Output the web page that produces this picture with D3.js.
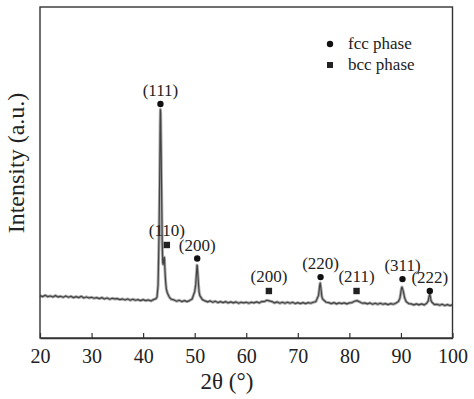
<!DOCTYPE html>
<html>
<head>
<meta charset="utf-8">
<script src="https://cdn.jsdelivr.net/npm/d3@7"></script>
<style>
  html, body { margin: 0; padding: 0; background: #fff; }
</style>
</head>
<body>
<div id="chart"></div>
<script>
// XRD pattern, 2θ from 20 to 100 deg (0.5 deg steps)
const scanStart = 20;
const scanStep = 0.5;
const scan = [
  128, 125, 129, 125, 127, 124, 128, 124, 126, 123,
  127, 123, 126, 122, 125, 122, 126, 121, 124, 121,
  123, 120, 122, 119, 122, 118, 121, 117, 120, 118,
  119, 116, 118, 115, 118, 114, 117, 114, 116, 113,
  116, 113, 115, 112, 116, 119, 240, 560, 236, 148,
  126, 117, 115, 111, 114, 110, 113, 110, 113, 118,
  140, 218, 128, 116, 112, 109, 112, 108, 111, 107,
  110, 107, 110, 106, 109, 106, 109, 105, 108, 106,
  108, 105, 108, 106, 109, 106, 110, 110, 114, 112,
  110, 106, 109, 105, 108, 105, 108, 105, 108, 104,
  107, 104, 107, 104, 107, 105, 108, 110, 128, 148,
  115, 108, 107, 104, 107, 103, 106, 104, 106, 103,
  106, 107, 111, 113, 109, 105, 106, 103, 106, 102,
  105, 102, 105, 102, 104, 101, 104, 102, 105, 110,
  140, 138, 110, 104, 103, 100, 103, 100, 103, 100,
  105, 128, 108, 101, 102, 99, 102, 98, 101, 98,
  100
];

// finer points read around the peaks [2θ, intensity]
const peakDetail = [
  [42.7, 124], [42.9, 160], [43.1, 330], [43.2, 470], [43.3, 640],
  [43.35, 690], [43.4, 680], [43.45, 620], [43.6, 420], [43.7, 290],
  [43.8, 228], [43.9, 222], [44.1, 244], [44.15, 238], [44.2, 215],
  [44.3, 185], [44.4, 163], [44.7, 136], [45.2, 121],
  [50.2, 162], [50.35, 196], [50.45, 220], [50.6, 196], [50.75, 160], [50.85, 140],
  [74.1, 138], [74.25, 160], [74.35, 166], [74.4, 160], [74.65, 126], [74.8, 118],
  [89.8, 120], [90.1, 150], [90.2, 154], [90.3, 150], [90.7, 122],
  [95.3, 112], [95.45, 126], [95.6, 133], [95.7, 126], [95.8, 115]
];

// phase markers: label, 2θ, intensity
const fccLabels = ["(111)", "(200)", "(220)", "(311)", "(222)"];
const fcc2Theta = [43.36, 50.49, 74.41, 90.3, 95.6];
const fccHeight = [707, 240, 184, 178, 142];

const bccLabels = ["(110)", "(200)", "(211)"];
const bcc2Theta = [44.6, 64.39, 81.39];
const bccHeight = [281, 142, 142];

const xTicks = [20, 30, 40, 50, 60, 70, 80, 90, 100];
const legendItems = ["fcc phase", "bcc phase"];

const width = 474;
const height = 399;
const margin = { top: 7, right: 21.5, bottom: 61, left: 40 };
const serif = '"Liberation Serif"';

const svg = d3.select("#chart")
  .append("svg")
  .attr("width", width)
  .attr("height", height);

const x = d3.scaleLinear()
  .domain([20, 100])
  .range([margin.left, width - margin.right]);

const y = d3.scaleLinear()
  .domain([0, 1000])
  .range([height - margin.bottom, margin.top]);

// merge the coarse scan with the peak detail
const points = scan.map((v, i) => [scanStart + i * scanStep, v])
  .concat(peakDetail)
  .sort((a, b) => a[0] - b[0]);

const line = d3.line()
  .x(d => x(d[0]))
  .y(d => y(d[1]));

// noisy band under the trace, then the trace itself
svg.append("path")
  .datum(points)
  .attr("fill", "none")
  .attr("stroke", "#666")
  .attr("stroke-width", 3)
  .attr("stroke-opacity", 0.55)
  .attr("stroke-linejoin", "round")
  .attr("d", line);

svg.append("path")
  .datum(points)
  .attr("fill", "none")
  .attr("stroke", "#444")
  .attr("stroke-width", 1.2)
  .attr("stroke-linejoin", "round")
  .attr("d", line);

// frame
svg.append("rect")
  .attr("x", margin.left)
  .attr("y", margin.top)
  .attr("width", width - margin.left - margin.right)
  .attr("height", height - margin.top - margin.bottom)
  .attr("fill", "none")
  .attr("stroke", "#333")
  .attr("stroke-width", 1.4);

// x axis, ticks pointing inward
const xAxis = svg.append("g")
  .attr("transform", `translate(0,${height - margin.bottom})`)
  .attr("font-family", null)
  .call(d3.axisBottom(x)
    .tickValues(xTicks)
    .tickSizeInner(-5)
    .tickSizeOuter(0)
    .tickPadding(11));
xAxis.attr("font-family", null).attr("font-size", null);
xAxis.select(".domain").attr("stroke", "#333").attr("stroke-width", 1.4);
xAxis.selectAll(".tick line").attr("stroke", "#333").attr("stroke-width", 1.2);
xAxis.selectAll(".tick text")
  .style("font-size", "20px")
  .style("font-family", serif)
  .attr("fill", "#222");

// axis titles
svg.append("text")
  .attr("x", 227)
  .attr("y", 389)
  .attr("text-anchor", "middle")
  .style("font-family", serif)
  .style("font-size", "23px")
  .attr("fill", "#222")
  .text("2θ (°)");

svg.append("text")
  .attr("transform", "rotate(-90)")
  .attr("x", -163)
  .attr("y", 24)
  .attr("text-anchor", "middle")
  .style("font-family", serif)
  .style("font-size", "24px")
  .attr("fill", "#222")
  .text("Intensity (a.u.)");

// fcc markers (circles)
const fcc = svg.append("g");
fcc.selectAll("circle")
  .data(fcc2Theta)
  .join("circle")
  .attr("cx", d => x(d))
  .attr("cy", (d, i) => y(fccHeight[i]))
  .attr("r", 3.2)
  .attr("fill", "#111");
fcc.selectAll("text")
  .data(fccLabels)
  .join("text")
  .attr("x", (d, i) => x(fcc2Theta[i]))
  .attr("y", (d, i) => y(fccHeight[i]) - 8)
  .attr("text-anchor", "middle")
  .style("font-family", serif)
  .style("font-size", "17px")
  .attr("fill", "#222")
  .text(d => d);

// bcc markers (squares)
const bcc = svg.append("g");
bcc.selectAll("rect")
  .data(bcc2Theta)
  .join("rect")
  .attr("x", d => x(d) - 3.2)
  .attr("y", (d, i) => y(bccHeight[i]) - 3.2)
  .attr("width", 6.4)
  .attr("height", 6.4)
  .attr("fill", "#222");
bcc.selectAll("text")
  .data(bccLabels)
  .join("text")
  .attr("x", (d, i) => x(bcc2Theta[i]))
  .attr("y", (d, i) => y(bccHeight[i]) - 9)
  .attr("text-anchor", "middle")
  .style("font-family", serif)
  .style("font-size", "17px")
  .attr("fill", "#222")
  .text(d => d);

// legend
const legend = svg.append("g").attr("transform", "translate(330,44)");
legend.append("circle").attr("cx", 0).attr("cy", 0).attr("r", 3.2).attr("fill", "#111");
legend.append("rect").attr("x", -3).attr("y", 18).attr("width", 6).attr("height", 6).attr("fill", "#222");
legend.selectAll("text")
  .data(legendItems)
  .join("text")
  .attr("x", 18)
  .attr("y", (d, i) => 5 + i * 21)
  .style("font-family", serif)
  .style("font-size", "17px")
  .attr("fill", "#222")
  .text(d => d);
</script>
</body>
</html>
